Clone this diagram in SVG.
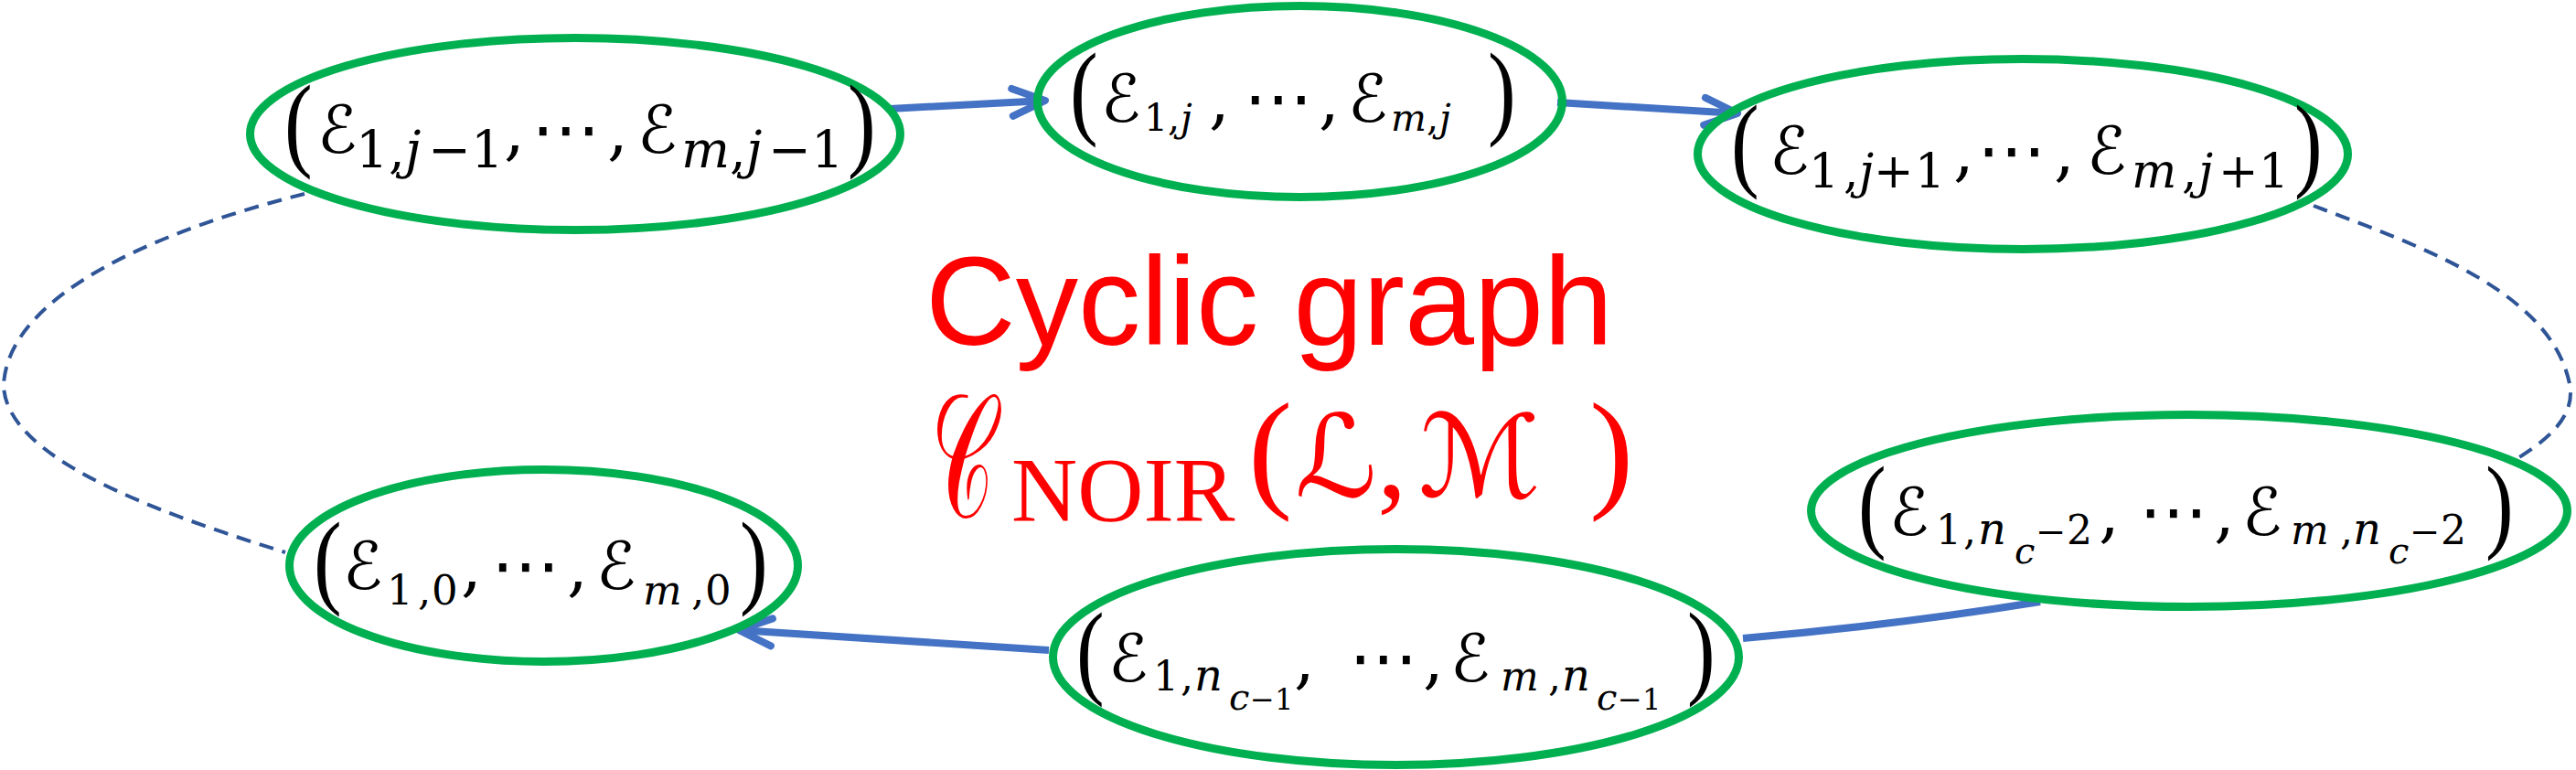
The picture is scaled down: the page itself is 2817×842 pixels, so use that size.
<svg xmlns="http://www.w3.org/2000/svg" width="2817" height="842" viewBox="0 0 2817 842">
<style>
.node ellipse{fill:none;stroke:#00B050;stroke-width:9}
.t{font-family:"DejaVu Serif",serif;fill:#000}
.pr{font-family:"Liberation Serif",serif;font-size:80px;fill:#000}
.e{font-family:"DejaVu Sans",sans-serif;font-size:72px}
.c{font-size:72px}
.d{font-family:"DejaVu Sans",sans-serif;font-size:75px}
.i{font-style:italic}
.arrow{fill:none;stroke:#4472C4;stroke-width:8}
.dash{fill:none;stroke:#2F5597;stroke-width:4;stroke-dasharray:16 10}
</style>
<defs>
<marker id="ah" viewBox="-50 -25 60 50" refX="0" refY="0" markerWidth="60" markerHeight="50" markerUnits="userSpaceOnUse" orient="auto" overflow="visible">
<path d="M-36,-15 L0,0 L-36,15" fill="none" stroke="#4472C4" stroke-width="8" stroke-linecap="round" stroke-linejoin="round"/>
</marker>
</defs>
<rect width="2817" height="842" fill="#fff"/>
<g id="connectors">
<path class="arrow" d="M973,119 L1143,110" marker-end="url(#ah)"/>
<path class="arrow" d="M1703,112 L1900,124" marker-end="url(#ah)"/>
<path class="arrow" d="M1147,711 L808,689" marker-end="url(#ah)"/>
<path class="arrow" d="M1906,698 Q2069,684 2231,658"/>
<path class="dash" d="M333,212 C180,250 10,320 4,420 C4,500 170,560 312,604"/>
<path class="dash" d="M2530,225 C2650,270 2790,320 2810,420 C2816,450 2795,475 2755,500"/>
</g>
<g id="node1" class="node">
<ellipse cx="629" cy="146.5" rx="355.5" ry="105"/>
<text class="pr" transform="translate(311,172) scale(1.15,1.43)">(</text>
<text class="pr" transform="translate(927,172) scale(1.15,1.43)">)</text>
<text class="t">
<tspan class="e" x="347" y="167">ℰ</tspan><tspan font-size="56" x="389" y="183">1</tspan><tspan font-size="56" x="425" y="183">,</tspan><tspan font-size="56" class="i" x="443" y="183">j</tspan><tspan font-size="56" x="468" y="183">−</tspan><tspan font-size="56" x="515" y="183">1</tspan><tspan class="c" x="551" y="167">,</tspan><tspan class="d" x="581" y="167">⋯</tspan><tspan class="c" x="664" y="167">,</tspan><tspan class="e" x="697" y="167">ℰ</tspan><tspan font-size="56" class="i" x="745" y="183">m</tspan><tspan font-size="56" x="798" y="183">,</tspan><tspan font-size="56" class="i" x="816" y="183">j</tspan><tspan font-size="56" x="840" y="183">−</tspan><tspan font-size="56" x="887" y="183">1</tspan>
</text>
</g>
<g id="node2" class="node">
<ellipse cx="1421.5" cy="111" rx="287" ry="104.5"/>
<text class="pr" transform="translate(1170,137) scale(1.15,1.43)">(</text>
<text class="pr" transform="translate(1627,137) scale(1.15,1.43)">)</text>
<text class="t">
<tspan class="e" x="1204" y="133">ℰ</tspan><tspan font-size="41" x="1251" y="143">1</tspan><tspan font-size="41" x="1277" y="143">,</tspan><tspan font-size="41" class="i" x="1291" y="143">j</tspan><tspan class="c" x="1322" y="133">,</tspan><tspan class="d" x="1360" y="133">⋯</tspan><tspan class="c" x="1442" y="133">,</tspan><tspan class="e" x="1474" y="133">ℰ</tspan><tspan font-size="41" class="i" x="1521" y="143">m</tspan><tspan font-size="41" x="1560" y="143">,</tspan><tspan font-size="41" class="i" x="1574" y="143">j</tspan>
</text>
</g>
<g id="node3" class="node">
<ellipse cx="2212" cy="168.5" rx="355.5" ry="104"/>
<text class="pr" transform="translate(1893,194) scale(1.15,1.43)">(</text>
<text class="pr" transform="translate(2509,194) scale(1.15,1.43)">)</text>
<text class="t">
<tspan class="e" x="1935" y="190">ℰ</tspan><tspan font-size="52" x="1978" y="205">1</tspan><tspan font-size="52" x="2016" y="205">,</tspan><tspan font-size="52" class="i" x="2033" y="205">j</tspan><tspan font-size="52" x="2049" y="205">+</tspan><tspan font-size="52" x="2094" y="205">1</tspan><tspan class="c" x="2136" y="190">,</tspan><tspan class="d" x="2162" y="190">⋯</tspan><tspan class="c" x="2246" y="190">,</tspan><tspan class="e" x="2282" y="190">ℰ</tspan><tspan font-size="52" class="i" x="2331" y="205">m</tspan><tspan font-size="52" x="2386" y="205">,</tspan><tspan font-size="52" class="i" x="2404" y="205">j</tspan><tspan font-size="52" x="2426" y="205">+</tspan><tspan font-size="52" x="2470" y="205">1</tspan>
</text>
</g>
<g id="node4" class="node">
<ellipse cx="594.5" cy="618.5" rx="278" ry="105"/>
<text class="pr" transform="translate(343,650) scale(1.15,1.43)">(</text>
<text class="pr" transform="translate(809,650) scale(1.15,1.43)">)</text>
<text class="t">
<tspan class="e" x="375" y="644">ℰ</tspan><tspan font-size="45" x="423" y="661">1</tspan><tspan font-size="45" x="457" y="661">,</tspan><tspan font-size="45" x="472" y="661">0</tspan><tspan class="c" x="504" y="644">,</tspan><tspan class="d" x="537" y="644">⋯</tspan><tspan class="c" x="620" y="644">,</tspan><tspan class="e" x="652" y="644">ℰ</tspan><tspan font-size="45" class="i" x="703" y="661">m</tspan><tspan font-size="45" x="756" y="661">,</tspan><tspan font-size="45" x="771" y="661">0</tspan>
</text>
</g>
<g id="node5" class="node">
<ellipse cx="1526.5" cy="718.5" rx="375" ry="118"/>
<text class="pr" transform="translate(1177,749) scale(1.15,1.43)">(</text>
<text class="pr" transform="translate(1845,749) scale(1.15,1.43)">)</text>
<text class="t">
<tspan class="e" x="1212" y="745">ℰ</tspan><tspan font-size="44" x="1261" y="755">1</tspan><tspan font-size="44" x="1291" y="755">,</tspan><tspan font-size="48" class="i" x="1306" y="755">n</tspan><tspan font-size="40" class="i" x="1344" y="776">c</tspan><tspan font-size="32" x="1367" y="776">−</tspan><tspan font-size="32" x="1394" y="776">1</tspan><tspan class="c" x="1415" y="745">,</tspan><tspan class="d" x="1475" y="745">⋯</tspan><tspan class="c" x="1556" y="745">,</tspan><tspan class="e" x="1586" y="745">ℰ</tspan><tspan font-size="44" class="i" x="1641" y="755">m</tspan><tspan font-size="44" x="1693" y="755">,</tspan><tspan font-size="48" class="i" x="1708" y="755">n</tspan><tspan font-size="40" class="i" x="1746" y="776">c</tspan><tspan font-size="32" x="1769" y="776">−</tspan><tspan font-size="32" x="1796" y="776">1</tspan>
</text>
</g>
<g id="node6" class="node">
<ellipse cx="2394" cy="558.5" rx="413.5" ry="105"/>
<text class="pr" transform="translate(2032,589) scale(1.15,1.43)">(</text>
<text class="pr" transform="translate(2718,589) scale(1.15,1.43)">)</text>
<text class="t">
<tspan class="e" x="2066" y="585">ℰ</tspan><tspan font-size="44" x="2117" y="595">1</tspan><tspan font-size="44" x="2147" y="595">,</tspan><tspan font-size="48" class="i" x="2163" y="595">n</tspan><tspan font-size="40" class="i" x="2203" y="616">c</tspan><tspan font-size="40" x="2226" y="595">−</tspan><tspan font-size="44" x="2260" y="595">2</tspan><tspan class="c" x="2295" y="585">,</tspan><tspan class="d" x="2339" y="585">⋯</tspan><tspan class="c" x="2421" y="585">,</tspan><tspan class="e" x="2452" y="585">ℰ</tspan><tspan font-size="44" class="i" x="2505" y="595">m</tspan><tspan font-size="44" x="2559" y="595">,</tspan><tspan font-size="48" class="i" x="2573" y="595">n</tspan><tspan font-size="40" class="i" x="2612" y="616">c</tspan><tspan font-size="40" x="2635" y="595">−</tspan><tspan font-size="44" x="2669" y="595">2</tspan>
</text>
</g>
<g id="title">
<text x="1012" y="377" font-family="Liberation Sans,Arial,sans-serif" font-size="138" fill="#FF0000" textLength="752" lengthAdjust="spacingAndGlyphs">Cyclic graph</text>
<text transform="translate(1018,565) scale(0.5,1)" font-family="DejaVu Sans,serif" font-size="190" fill="#FF0000">𝒞</text>
<text font-family="Liberation Serif,serif" fill="#FF0000"><tspan font-size="100" x="1106" y="569">NOIR</tspan><tspan font-size="145" x="1365" y="540">(</tspan><tspan font-family="DejaVu Sans,serif" font-size="125" x="1416" y="543">ℒ</tspan><tspan font-size="130" x="1506" y="543">,</tspan><tspan font-family="DejaVu Sans,serif" font-size="125" x="1551" y="543">ℳ </tspan><tspan font-size="145" x="1738" y="540">)</tspan></text>
</g>
</svg>
